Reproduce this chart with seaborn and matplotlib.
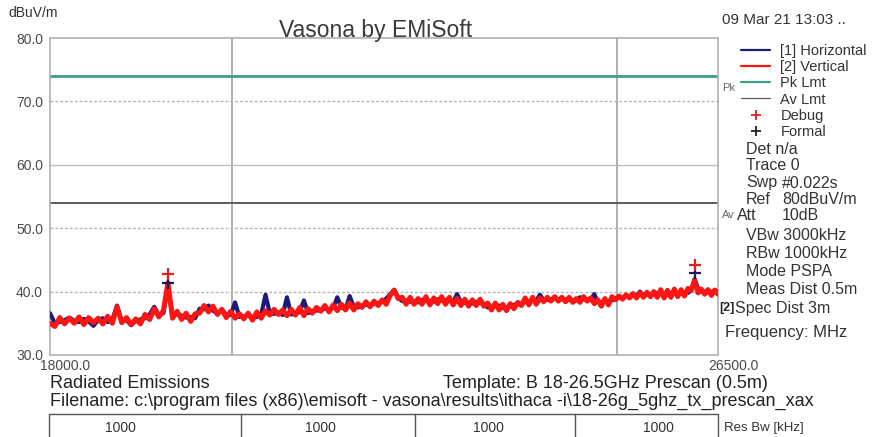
import numpy as np
import pandas as pd
import matplotlib
matplotlib.use('Agg')
import matplotlib.pyplot as plt
import matplotlib.transforms as mtransforms
from matplotlib.lines import Line2D
from matplotlib.ticker import NullLocator
import seaborn as sns

# ---------------- data ----------------
f_start = 18000.0
f_stop = 26500.0

# [2] Vertical trace, dBuV/m (sweep points, linear in frequency)
vertical = [
    35.0, 34.5, 35.9, 34.9, 35.8, 35.0, 36.0, 34.8, 35.9, 35.1,
    35.8, 34.9, 36.1, 35.0, 37.6, 35.1, 35.9, 34.8, 35.7, 34.9,
    36.4, 35.6, 37.3, 36.0, 37.0, 41.4, 35.8, 36.9, 35.6, 36.6,
    35.3, 36.5, 36.6, 37.8, 36.8, 37.7, 36.4, 37.2, 35.9, 36.9,
    35.8, 36.5, 35.7, 36.6, 35.5, 36.8, 35.8, 37.0, 36.3, 37.2,
    36.4, 37.1, 36.2, 37.2, 36.3, 37.5, 36.2, 37.3, 36.6, 37.5,
    36.9, 37.8, 36.8, 37.9, 37.0, 38.0, 37.1, 38.2, 37.1, 38.1,
    37.5, 38.4, 37.6, 38.5, 37.8, 38.7, 38.0, 39.4, 40.2, 38.9,
    39.1, 38.0, 39.1, 38.0, 38.9, 38.0, 39.2, 37.9, 39.0, 38.1,
    39.2, 38.0, 39.1, 37.9, 38.9, 37.8, 38.8, 37.7, 38.7, 37.8,
    38.8, 37.7, 38.2, 37.1, 38.2, 37.1, 38.0, 37.0, 38.1, 37.3,
    38.3, 37.8, 39.0, 37.9, 39.1, 38.0, 39.0, 38.4, 39.1, 38.5,
    39.2, 38.5, 39.1, 38.4, 39.1, 38.3, 38.9, 38.3, 39.2, 38.5,
    39.0, 38.1, 38.7, 37.7, 38.9, 37.9, 39.2, 38.7, 39.3, 38.8,
    39.5, 39.0, 39.7, 39.0, 39.8, 39.1, 39.9, 39.2, 40.0, 39.1,
    40.3, 39.0, 40.2, 39.1, 40.4, 39.2, 40.3, 39.3, 40.5, 40.2,
    41.8, 39.8, 40.4, 39.6, 40.3, 39.4, 40.2, 39.6,
]

# [1] Horizontal trace, dBuV/m
horizontal = [
    36.6, 35.0, 35.2, 35.5, 35.9, 35.4, 35.2, 35.7, 35.3, 34.6,
    35.5, 35.8, 35.2, 35.6, 37.8, 35.3, 35.5, 34.7, 35.4, 35.6,
    35.8, 36.4, 37.6, 36.3, 36.6, 40.9, 36.0, 36.5, 36.2, 35.9,
    36.0, 35.8, 37.3, 37.2, 37.8, 37.0, 36.5, 37.1, 36.4, 36.3,
    38.3, 36.0, 36.1, 36.3, 35.9, 36.0, 36.4, 39.5, 36.6, 36.5,
    36.7, 36.3, 39.1, 36.4, 36.5, 36.8, 38.6, 36.6, 36.9, 37.0,
    37.1, 37.3, 37.2, 37.4, 39.1, 37.5, 37.2, 39.3, 37.6, 37.5,
    37.8, 37.9, 37.9, 38.1, 38.2, 38.4, 38.9, 39.6, 40.3, 39.0,
    38.5, 38.6, 38.4, 38.5, 38.3, 38.7, 38.6, 38.5, 38.4, 38.8,
    38.6, 38.7, 38.5, 38.4, 39.6, 38.3, 38.2, 38.3, 38.1, 38.4,
    38.2, 38.1, 37.5, 37.6, 37.7, 37.8, 37.4, 37.5, 37.6, 37.9,
    38.1, 37.9, 38.4, 38.5, 38.5, 38.6, 39.5, 38.6, 38.7, 38.8,
    38.9, 38.8, 38.9, 38.7, 38.7, 38.6, 38.6, 39.1, 38.8, 38.8,
    38.7, 39.6, 38.4, 38.3, 38.4, 38.5, 38.6, 38.9, 39.1, 39.0,
    39.3, 39.2, 39.4, 39.3, 40.0, 39.4, 39.6, 39.5, 39.6, 39.8,
    39.6, 39.7, 39.5, 39.6, 39.7, 39.8, 39.7, 39.9, 39.8, 40.2,
    42.0, 40.5, 40.0, 39.9, 40.3, 39.8, 40.3, 39.9,
]

pk_limit = 74.0
av_limit = 54.0

debug_freq = [19272.0, 26144.0]
debug_level = [42.7, 44.2]
formal_freq = [19272.0, 26144.0]
formal_level = [41.3, 43.0]

y_ticks = [30, 40, 50, 60, 70, 80]
y_labels = ['30.0', '40.0', '50.0', '60.0', '70.0', '80.0']
x_ticks = [18000, 26500]
x_labels = ['18000.0', '26500.0']

info_rows = [
    ('Det n/a', ''), ('Trace 0', ''), ('Swp', '#0.022s'), ('Ref', '80dBuV/m'),
    ('Att', '10dB'), ('VBw 3000kHz', ''), ('RBw 1000kHz', ''), ('Mode PSPA', ''),
    ('Meas Dist 0.5m', ''),
]
res_bw = ['1000', '1000', '1000', '1000']

# --------------------------------------------------------------
sns.set_style('white')
plt.rcParams['font.family'] = ['Liberation Sans', 'DejaVu Sans']

W, H = 886, 437
fig = plt.figure(figsize=(W / 100, H / 100), dpi=100)
ax = fig.add_axes([50 / W, 1 - 355 / H, 668 / W, 317 / H])

freq = np.linspace(f_start, f_stop, len(vertical))
df = pd.DataFrame({'freq': freq, 'hor': horizontal, 'ver': vertical})

ax.set_xscale('log')
ax.set_xlim(f_start, f_stop)
ax.set_ylim(30, 80)

# grid
for v in [20000, 25000]:
    ax.axvline(v, color='#a9a9a9', lw=1.3, zorder=1)
for h in [40, 50, 70]:
    ax.axhline(h, color='#b4b4b4', lw=1, ls=(0, (2, 1.5)), zorder=1)
ax.axhline(60, color='#bdbdbd', lw=1, zorder=1)

# limits
ax.axhline(pk_limit, color='#3f9c86', lw=2, zorder=2)
ax.axhline(av_limit, color='#5c5c5c', lw=1.4, zorder=2)

# traces
sns.lineplot(data=df, x='freq', y='hor', ax=ax, color='#1c1c78', lw=3.0,
             estimator=None, zorder=3)
sns.lineplot(data=df, x='freq', y='ver', ax=ax, color='#ff1414', lw=3.6,
             estimator=None, zorder=4)

ax.plot(formal_freq, formal_level, ls='none', marker='+', ms=9, mew=1.6,
        color='#1c1c5a', zorder=5)
ax.plot(debug_freq, debug_level, ls='none', marker='+', ms=9, mew=1.6,
        color='#e02020', zorder=6)

ax.set_xlabel('')
ax.set_ylabel('')
ax.xaxis.set_minor_locator(NullLocator())
ax.set_xticks(x_ticks, labels=x_labels)
ax.set_yticks(y_ticks, labels=y_labels)
ax.tick_params(axis='both', length=0, labelsize=10, labelcolor='#4a4a4a')
ax.tick_params(axis='y', pad=5)
ax.tick_params(axis='x', pad=3)
off = mtransforms.ScaledTranslation(-10 / 100, 0, fig.dpi_scale_trans)
for lbl in ax.get_xticklabels():
    lbl.set_ha('left')
    lbl.set_transform(lbl.get_transform() + off)
for sp in ax.spines.values():
    sp.set_color('#b0b0b0')
    sp.set_linewidth(1.2)


def px(x, y):
    return x / W, 1 - y / H


# header
fig.text(*px(8, 13), 'dBuV/m', fontsize=10, va='center', color='#333333')
fig.text(*px(376, 30), 'Vasona by EMiSoft', fontsize=16.5, ha='center', va='center',
         color='#3a3a3a')
fig.text(*px(722, 20), '09 Mar 21 13:03 ..', fontsize=11, va='center', color='#333333')

# legend
handles = [
    Line2D([], [], color='#1c1c78', lw=1.6),
    Line2D([], [], color='#ff1414', lw=1.6),
    Line2D([], [], color='#3f9c86', lw=1.6),
    Line2D([], [], color='#5c5c5c', lw=0.9),
    Line2D([], [], ls='none', marker='+', ms=7, mew=1.3, color='#e02020'),
    Line2D([], [], ls='none', marker='+', ms=7, mew=1.3, color='#222222'),
]
labels = ['[1] Horizontal', '[2] Vertical', 'Pk Lmt', 'Av Lmt', 'Debug', 'Formal']
fig.legend(handles, labels, loc='upper left', bbox_to_anchor=px(741, 44),
           frameon=False, fontsize=10.5, handlelength=2.0, handletextpad=0.7,
           labelspacing=0.15, borderaxespad=0, borderpad=0,
           labelcolor='#333333')

fig.text(*px(722, 88), 'Pk', fontsize=8, va='center', color='#666666')
fig.text(*px(722, 215), 'Av', fontsize=8, va='center', color='#666666')

row_y = [149, 165, 183, 199, 215, 235, 253, 271, 289]
for (lab, val), yy in zip(info_rows, row_y):
    x0 = 737 if lab == 'Att' else 746
    fig.text(*px(x0, yy), lab, fontsize=11.5, va='center', color='#333333')
    if val:
        fig.text(*px(782, yy), val, fontsize=11.5, va='center', color='#333333')
fig.text(*px(719, 308), '[2]', fontsize=9, va='center', color='#222222',
         fontweight='bold')
fig.text(*px(735, 308), 'Spec Dist 3m', fontsize=11.5, va='center', color='#333333')
fig.text(*px(725, 333), 'Frequency: MHz', fontsize=12, va='center', color='#333333')

# footer
fig.text(*px(50, 383), 'Radiated Emissions', fontsize=13, va='center', color='#222222')
fig.text(*px(443, 383), 'Template: B 18-26.5GHz Prescan (0.5m)', fontsize=13,
         va='center', color='#222222')
fig.text(*px(50, 401), r'Filename: c:\program files (x86)\emisoft - vasona\results'
         r'\ithaca -i\18-26g_5ghz_tx_prescan_xax', fontsize=13, va='center',
         color='#222222')

# Res Bw table
tbl_top = 414
fig.add_artist(Line2D([49 / W, 718 / W], [1 - tbl_top / H] * 2, color='#555555', lw=1))
for xb in [49, 241, 415, 575, 718]:
    fig.add_artist(Line2D([xb / W] * 2, [1 - tbl_top / H, 0], color='#555555', lw=1))
for xc, txt in zip([120, 320, 488, 658], res_bw):
    fig.text(*px(xc, 428), txt, fontsize=10, ha='center', va='center', color='#333333')
fig.text(*px(724, 428), 'Res Bw [kHz]', fontsize=9.5, va='center', color='#333333')

fig.savefig('out.png', dpi=100)
